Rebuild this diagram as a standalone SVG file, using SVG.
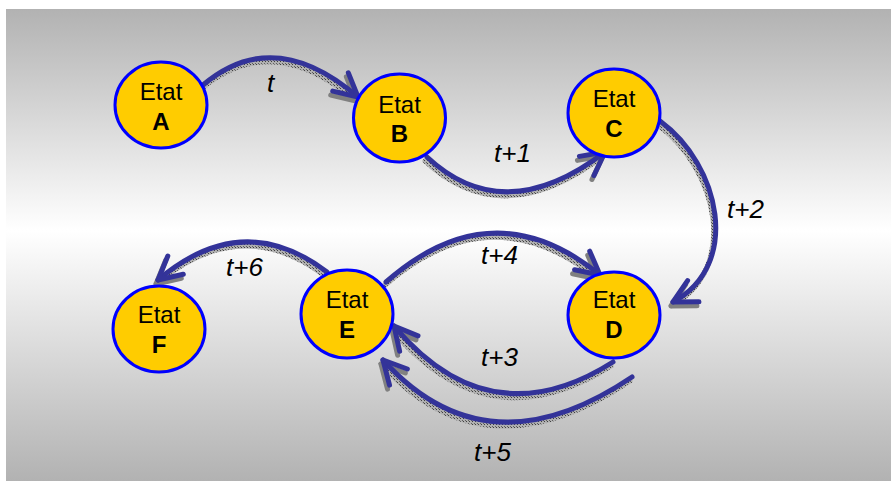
<svg xmlns="http://www.w3.org/2000/svg" xmlns:xlink="http://www.w3.org/1999/xlink" width="891" height="481" viewBox="0 0 891 481">
  <style>
    .state ellipse { fill: #ffcc00; stroke: #0000ff; stroke-width: 3; }
    .state text { font-family: "Liberation Sans", Arial, sans-serif; font-size: 24px; fill: #000; text-anchor: middle; }
    .state .id { font-weight: bold; }
    .lbl { font-family: "Liberation Sans", Arial, sans-serif; font-size: 26px; font-style: italic; fill: #000; }
    .edge { fill: none; stroke: #333399; stroke-width: 5; stroke-linecap: round; marker-end: url(#head); }
    .shade { fill: none; stroke: url(#hatch); stroke-width: 5; stroke-linecap: round; marker-end: url(#headShade); }
  </style>
  <defs>
    <linearGradient id="bg" x1="0" y1="0" x2="0" y2="1">
      <stop offset="0" stop-color="#b2b2b2"/>
      <stop offset="0.47" stop-color="#ffffff"/>
      <stop offset="1" stop-color="#b2b2b2"/>
    </linearGradient>
    <pattern id="hatch" width="3" height="3" patternUnits="userSpaceOnUse">
      <rect width="3" height="3" fill="#b0b0b0"/>
      <rect width="1" height="1" fill="#404040"/>
      <rect x="2" y="2" width="1" height="1" fill="#606060"/>
    </pattern>
    <marker id="head" markerUnits="userSpaceOnUse" markerWidth="60" markerHeight="60" viewBox="-30 -30 60 60" refX="0" refY="0" orient="auto" overflow="visible">
      <path d="M-23,-12 L0,0 L-23,12" fill="none" stroke="#333399" stroke-width="5" stroke-linecap="round" stroke-linejoin="round"/>
    </marker>
    <marker id="headShade" markerUnits="userSpaceOnUse" markerWidth="60" markerHeight="60" viewBox="-30 -30 60 60" refX="0" refY="0" orient="auto" overflow="visible">
      <path d="M-23,-12 L0,0 L-23,12" fill="none" stroke="#808080" stroke-width="5" stroke-linecap="round" stroke-linejoin="round"/>
    </marker>
    <path id="eAB" d="M203,85 Q274,25 358,97"/>
    <path id="eBC" d="M427,157 Q504,229 605,152"/>
    <path id="eCD" d="M660,121 C720,165 742,265 673,302"/>
    <path id="eDE3" d="M613,362 Q490,440 394,326"/>
    <path id="eDE5" d="M632,377 Q487,475 383,360"/>
    <path id="eED" d="M386,282 Q493,188 600,275"/>
    <path id="eEF" d="M327,272 Q243,208 158,280"/>
  </defs>

  <!-- backdrop -->
  <rect x="0" y="0" width="891" height="481" fill="#ffffff"/>
  <rect x="6" y="9" width="885" height="472" fill="url(#bg)"/>

  <!-- transitions -->
  <g id="connectors">
    <g transform="translate(-2,4)">
      <use xlink:href="#eAB" class="shade"/>
      <use xlink:href="#eBC" class="shade"/>
      <use xlink:href="#eCD" class="shade"/>
      <use xlink:href="#eDE3" class="shade"/>
      <use xlink:href="#eDE5" class="shade"/>
      <use xlink:href="#eED" class="shade"/>
      <use xlink:href="#eEF" class="shade"/>
    </g>
    <use xlink:href="#eAB" class="edge"/>
    <use xlink:href="#eBC" class="edge"/>
    <use xlink:href="#eCD" class="edge"/>
    <use xlink:href="#eDE3" class="edge"/>
    <use xlink:href="#eDE5" class="edge"/>
    <use xlink:href="#eED" class="edge"/>
    <use xlink:href="#eEF" class="edge"/>
    <text class="lbl" x="267" y="92">t</text>
    <text class="lbl" x="494" y="162">t+1</text>
    <text class="lbl" x="727" y="218">t+2</text>
    <text class="lbl" x="481" y="366">t+3</text>
    <text class="lbl" x="481" y="264">t+4</text>
    <text class="lbl" x="474" y="461">t+5</text>
    <text class="lbl" x="226" y="276">t+6</text>
  </g>

  <!-- states -->
  <g id="stateA" class="state">
    <ellipse cx="161" cy="105" rx="46" ry="43"/>
    <text x="161" y="100">Etat</text>
    <text class="id" x="161" y="130">A</text>
  </g>
  <g id="stateB" class="state">
    <ellipse cx="399.5" cy="118" rx="46" ry="44"/>
    <text x="399.5" y="113">Etat</text>
    <text class="id" x="399.5" y="142">B</text>
  </g>
  <g id="stateC" class="state">
    <ellipse cx="614" cy="113" rx="46" ry="44"/>
    <text x="614" y="107">Etat</text>
    <text class="id" x="614" y="137">C</text>
  </g>
  <g id="stateD" class="state">
    <ellipse cx="614" cy="315" rx="46" ry="43"/>
    <text x="614" y="308">Etat</text>
    <text class="id" x="614" y="338">D</text>
  </g>
  <g id="stateE" class="state">
    <ellipse cx="347" cy="314" rx="46" ry="44"/>
    <text x="347" y="308">Etat</text>
    <text class="id" x="347" y="338">E</text>
  </g>
  <g id="stateF" class="state">
    <ellipse cx="159" cy="329" rx="46" ry="43"/>
    <text x="159" y="323">Etat</text>
    <text class="id" x="159" y="353">F</text>
  </g>
</svg>
